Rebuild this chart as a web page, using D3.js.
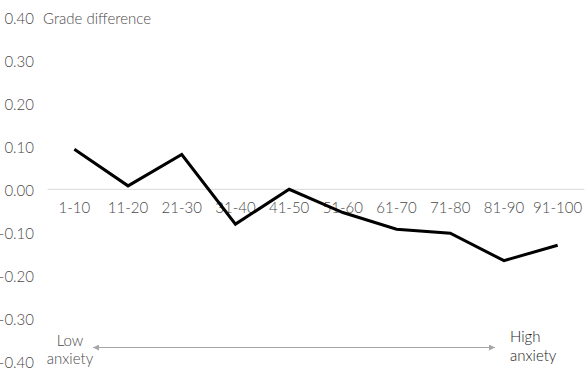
<html>
  <head>
    <meta charset="utf-8" />
    <script src="https://d3js.org/d3.v7.min.js"></script>
  </head>
  <style>
    body { margin: 0; background: #fff; }
    svg { font-family: Lato, "Open Sans", sans-serif; font-weight: 300; }
  </style>
  <body>
    <div id="viz"><svg></svg></div>
  </body>
  <footer>
    <script>
      // anxiety deciles vs grade difference
      var categories = ["1-10", "11-20", "21-30", "31-40", "41-50", "51-60", "61-70", "71-80", "81-90", "91-100"];
      var gradeDiff = [0.093, 0.008, 0.081, -0.081, 0.0, -0.054, -0.093, -0.102, -0.166, -0.13];
      var yTicks = [0.4, 0.3, 0.2, 0.1, 0, -0.1, -0.2, -0.3, -0.4];

      var width = 587, height = 386;
      var fs = "15px";
      var grey = "#4a4a4a";
      var svg = d3.select("svg").attr("width", width).attr("height", height);

      var xScale = d3.scaleBand().domain(categories).range([47.5, 584.5]);
      var yScale = d3.scaleLinear().domain([-0.4, 0.4]).range([361.3, 17.3]);

      // y tick labels (no axis line)
      svg.selectAll("text.ytick")
        .data(yTicks)
        .enter()
        .append("text")
        .attr("class", "ytick")
        .attr("x", 34)
        .attr("y", function (d) { return yScale(d) + 1; })
        .attr("dy", "0.35em")
        .attr("text-anchor", "end")
        .style("font-size", fs)
        .style("fill", grey)
        .text(function (d) { return d3.format(".2f")(d).replace("−", "-"); });

      // zero line
      svg.append("line")
        .attr("x1", xScale.range()[0])
        .attr("x2", xScale.range()[1])
        .attr("y1", yScale(0))
        .attr("y2", yScale(0))
        .style("stroke", "#d9d9d9")
        .style("stroke-width", 1);

      // category labels
      svg.selectAll("text.xtick")
        .data(categories)
        .enter()
        .append("text")
        .attr("class", "xtick")
        .attr("x", function (d) { return xScale(d) + xScale.bandwidth() / 2; })
        .attr("y", yScale(0) + 18.5)
        .attr("dy", "0.35em")
        .attr("text-anchor", "middle")
        .style("font-size", fs)
        .style("fill", grey)
        .text(function (d) { return d; });

      // the line
      var line = d3.line()
        .x(function (d, i) { return xScale(categories[i]) + xScale.bandwidth() / 2; })
        .y(function (d) { return yScale(d); });

      svg.append("path")
        .datum(gradeDiff)
        .attr("d", line)
        .style("fill", "none")
        .style("stroke", "#000")
        .style("stroke-width", 3)
        .style("stroke-linejoin", "miter");

      // axis title
      svg.append("text")
        .attr("x", 43)
        .attr("y", 19)
        .attr("dy", "0.35em")
        .style("font-size", fs)
        .style("fill", grey)
        .text("Grade difference");

      // anxiety arrow
      var defs = svg.append("defs");
      defs.append("marker")
        .attr("id", "ah")
        .attr("viewBox", "0 0 10 10")
        .attr("refX", 10)
        .attr("refY", 5)
        .attr("markerWidth", 7)
        .attr("markerHeight", 6)
        .attr("markerUnits", "userSpaceOnUse")
        .attr("orient", "auto-start-reverse")
        .append("path")
        .attr("d", "M0,0 L10,5 L0,10 Z")
        .style("fill", "#a6a6a6");

      svg.append("line")
        .attr("x1", 93)
        .attr("x2", 495)
        .attr("y1", 347.5)
        .attr("y2", 347.5)
        .style("stroke", "#a6a6a6")
        .style("stroke-width", 1.2)
        .attr("marker-start", "url(#ah)")
        .attr("marker-end", "url(#ah)");

      var low = svg.append("text")
        .attr("text-anchor", "middle")
        .style("font-size", fs)
        .style("fill", grey);
      low.append("tspan").attr("x", 70).attr("y", 341).attr("dy", "0.35em").text("Low");
      low.append("tspan").attr("x", 70).attr("y", 359).attr("dy", "0.35em").text("anxiety");

      var high = svg.append("text")
        .style("font-size", fs)
        .style("fill", "#1a1a1a");
      high.append("tspan").attr("x", 510).attr("y", 337).attr("dy", "0.35em").text("High");
      high.append("tspan").attr("x", 510).attr("y", 356).attr("dy", "0.35em").text("anxiety");
    </script>
  </footer>
</html>
